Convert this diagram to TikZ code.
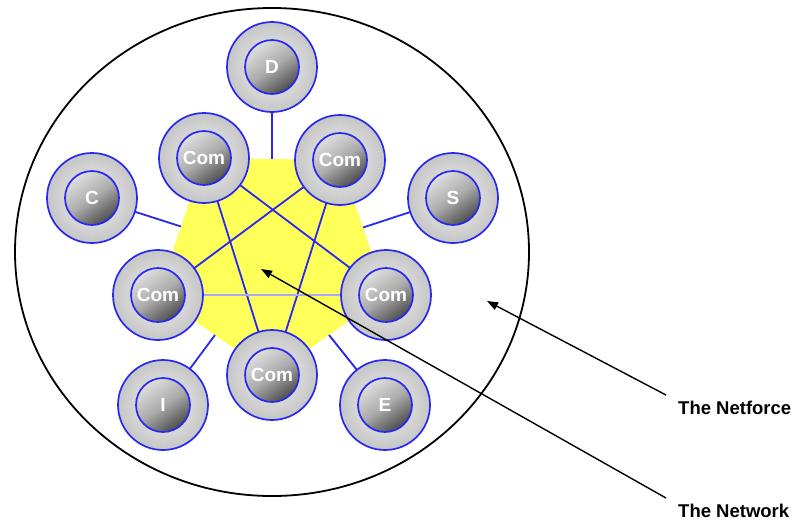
\documentclass[tikz,border=0pt]{standalone}
\usepackage{fontspec}
\setmainfont{Liberation Sans}
\usetikzlibrary{calc}
\usetikzlibrary{backgrounds}
\usetikzlibrary{arrows.meta}
\definecolor{netblue}{RGB}{40,40,240}
\definecolor{netyellow}{RGB}{255,255,90}

\begin{document}
\begin{tikzpicture}[x=1pt, y=-1pt,
ring/.style={circle, draw=netblue, line width=1.7pt, minimum size=90pt, inner sep=0pt, inner color=gray!10, outer color=gray!45},
core/.style={circle, draw=netblue, line width=1.7pt, minimum size=54pt, inner sep=0pt, top color=gray!25, bottom color=black!70, middle color=gray!65, shading angle=35, text=white, font=\fontsize{19}{19}\selectfont\bfseries},
link/.style={netblue, line width=1.8pt},
pointer/.style={-{Triangle[length=11pt, width=8pt]}, line width=1.4pt},
caption/.style={anchor=west, inner sep=0pt, font=\fontsize{18.5}{20}\selectfont\bfseries}
]
\useasboundingbox (0,0) rectangle (799,520);

% com vertices
\node[ring] (com1-ring) at (204,158) {};
\node[core] (com1) at (204,158) {Com};
\node[ring] (com2-ring) at (340,160) {};
\node[core] (com2) at (340,160) {Com};
\node[ring] (com3-ring) at (386,295) {};
\node[core] (com3) at (386,295) {Com};
\node[ring] (com4-ring) at (272,375) {};
\node[core] (com4) at (272,375) {Com};
\node[ring] (com5-ring) at (158,295) {};
\node[core] (com5) at (158,295) {Com};

% outer vertices
\node[ring] (d-ring) at (272,67) {};
\node[core] (d) at (272,67) {D};
\node[ring] (c-ring) at (92,198) {};
\node[core] (c) at (92,198) {C};
\node[ring] (s-ring) at (453,198) {};
\node[core] (s) at (453,198) {S};
\node[ring] (i-ring) at (163,405) {};
\node[core] (i) at (163,405) {I};
\node[ring] (e-ring) at (385,405) {};
\node[core] (e) at (385,405) {E};

% midpoints of the pentagon sides
\coordinate (m12) at ($(com1)!0.5!(com2)$);
\coordinate (m23) at ($(com2)!0.5!(com3)$);
\coordinate (m34) at ($(com3)!0.5!(com4)$);
\coordinate (m45) at ($(com4)!0.5!(com5)$);
\coordinate (m51) at ($(com5)!0.5!(com1)$);

\begin{pgfonlayer}{background}
% netforce
\draw[line width=1.8pt, fill=white] (272,252) ellipse [x radius=257, y radius=244];
% network
\fill[netyellow] (com1.center) -- (com2.center) -- (com3.center) -- (com4.center) -- (com5.center) -- cycle;
\draw[link] (com1.center) -- (com3.center);
\draw[link] (com1.center) -- (com4.center);
\draw[link] (com2.center) -- (com4.center);
\draw[link] (com2.center) -- (com5.center);
\draw[link, netblue!40] (com5.center) -- (com3.center);
% spokes
\draw[link] (d) -- (m12);
\draw[link] (s) -- (m23);
\draw[link] (e) -- (m34);
\draw[link] (i) -- (m45);
\draw[link] (c) -- (m51);
\end{pgfonlayer}

% captions
\node[caption] (netforce) at (678,408) {The Netforce};
\node[caption] (network) at (678,511) {The Network};
\coordinate (netforce-tip) at (487,301);
\coordinate (network-tip) at (261,269);
\draw[pointer] ([shift={(-12,-6)}]netforce.north west) -- (netforce-tip);
\draw[pointer] ([shift={(-12,-6)}]network.north west) -- (network-tip);

\end{tikzpicture}
\end{document}
